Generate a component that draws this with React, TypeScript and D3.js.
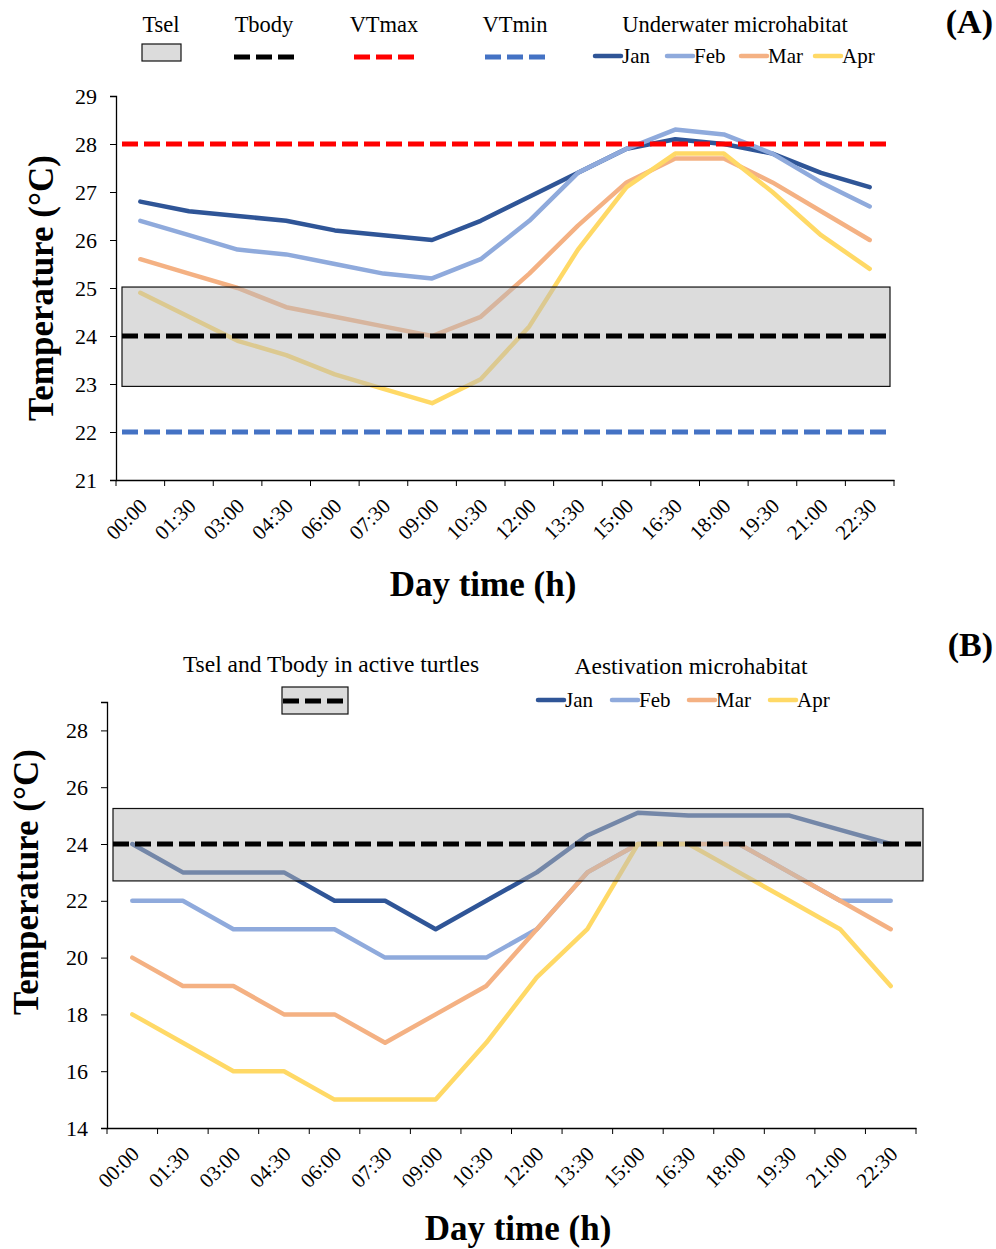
import React, { useRef, useEffect } from 'react';
import * as d3 from 'd3';

// time of day categories (same for both panels)
const times = ['00:00', '01:30', '03:00', '04:30', '06:00', '07:30', '09:00', '10:30',
  '12:00', '13:30', '15:00', '16:30', '18:00', '19:30', '21:00', '22:30'];

const months = ['Jan', 'Feb', 'Mar', 'Apr'];
const monthColors = ['#2f5597', '#8faadc', '#f4b183', '#ffd966'];

// (A) underwater microhabitat
const waterJan = [26.8, 26.6, 26.5, 26.4, 26.2, 26.1, 26.0, 26.4, 26.9, 27.4, 27.9, 28.1, 28.0, 27.8, 27.4, 27.1];
const waterFeb = [26.4, 26.1, 25.8, 25.7, 25.5, 25.3, 25.2, 25.6, 26.4, 27.4, 27.9, 28.3, 28.2, 27.8, 27.2, 26.7];
const waterMar = [25.6, 25.3, 25.0, 24.6, 24.4, 24.2, 24.0, 24.4, 25.3, 26.3, 27.2, 27.7, 27.7, 27.2, 26.6, 26.0];
const waterApr = [24.9, 24.4, 23.9, 23.6, 23.2, 22.9, 22.6, 23.1, 24.2, 25.8, 27.1, 27.8, 27.8, 27.0, 26.1, 25.4];

// (B) aestivation microhabitat
const aestJan = [24, 23, 23, 23, 22, 22, 21, 22, 23, 24.3, 25.1, 25, 25, 25, 24.5, 24];
const aestFeb = [22, 22, 21, 21, 21, 20, 20, 20, 21, 23, 24, 24, 24, 23, 22, 22];
const aestMar = [20, 19, 19, 18, 18, 17, 18, 19, 21, 23, 24, 24, 24, 23, 22, 21];
const aestApr = [18, 17, 16, 16, 15, 15, 15, 17, 19.3, 21, 24, 24, 23, 22, 21, 19];

// reference temperatures
const tselA = [22.95, 25.02];
const tbodyA = 24;
const vtMax = 28;
const vtMin = 22;
const tselB = [22.7, 25.25];
const tbodyB = 24;

const FONT = '"Liberation Serif", "Times New Roman", serif';
const BOX_FILL = '#b9b9b9';

function App() {
  const svgRef = useRef(null);

  useEffect(() => {
    const svg = d3.select(svgRef.current);
    svg.selectAll('*').remove();

    const drawPanel = (cfg) => {
      const g = svg.append('g');
      const x = d3.scaleBand().domain(times).range([cfg.left, cfg.right]);
      const y = d3.scaleLinear().domain(cfg.domain).range([cfg.bottom, cfg.top]);
      const cx = (t) => x(t) + x.bandwidth() / 2;

      // series lines
      const line = d3.line().x((d, i) => cx(times[i])).y(d => y(d));
      cfg.series.forEach((s, k) => {
        g.append('path')
          .datum(s)
          .attr('d', line)
          .attr('fill', 'none')
          .attr('stroke', monthColors[k])
          .attr('stroke-width', 4.5)
          .attr('stroke-linejoin', 'round')
          .attr('stroke-linecap', 'round');
      });

      // Tsel box
      g.append('rect')
        .attr('x', cfg.boxX[0])
        .attr('width', cfg.boxX[1] - cfg.boxX[0])
        .attr('y', y(cfg.tsel[1]))
        .attr('height', y(cfg.tsel[0]) - y(cfg.tsel[1]))
        .attr('fill', BOX_FILL)
        .attr('fill-opacity', 0.5)
        .attr('stroke', '#111')
        .attr('stroke-width', 1.2);

      // dashed reference lines
      cfg.refs.forEach(r => {
        g.append('line')
          .attr('x1', cfg.boxX[0]).attr('x2', cfg.boxX[1])
          .attr('y1', y(r.v)).attr('y2', y(r.v))
          .attr('stroke', r.color)
          .attr('stroke-width', 5)
          .attr('stroke-dasharray', '16,6');
      });

      // axes
      const yAxis = g.append('g')
        .attr('transform', `translate(${cfg.left},0)`)
        .call(d3.axisLeft(y).tickValues(cfg.ticks).tickSize(6).tickPadding(13).tickFormat(d3.format('d')));
      yAxis.selectAll('text').attr('font-size', 22).attr('font-family', FONT).attr('fill', '#000');

      const xAxis = g.append('g')
        .attr('transform', `translate(0,${cfg.bottom})`)
        .call(d3.axisBottom(x).tickValues([]).tickSizeOuter(0));
      // tick marks at band boundaries (Excel style)
      d3.range(times.length + 1).forEach(i => {
        const xx = cfg.left + i * x.step();
        xAxis.append('line').attr('x1', xx).attr('x2', xx).attr('y1', 0).attr('y2', 6).attr('stroke', '#000');
      });
      times.forEach(t => {
        xAxis.append('text')
          .attr('transform', `translate(${cx(t) + 3},${22}) rotate(-45)`)
          .attr('text-anchor', 'end')
          .attr('dy', '0.35em')
          .attr('font-size', 21)
          .attr('font-family', FONT)
          .attr('fill', '#000')
          .text(t);
      });
      g.selectAll('.domain').attr('stroke', '#000').attr('stroke-width', 1.3);
      g.selectAll('.tick line').attr('stroke', '#000');

      // axis titles
      g.append('text')
        .attr('transform', `translate(${cfg.yTitleX},${(cfg.top + cfg.bottom) / 2 + cfg.yTitleShift}) rotate(-90)`)
        .attr('text-anchor', 'middle')
        .attr('font-size', 35)
        .attr('font-weight', 'bold')
        .attr('font-family', FONT)
        .text('Temperature (°C)');
      g.append('text')
        .attr('x', cfg.xTitle[0]).attr('y', cfg.xTitle[1])
        .attr('text-anchor', 'middle')
        .attr('font-size', 35)
        .attr('font-weight', 'bold')
        .attr('font-family', FONT)
        .text('Day time (h)');

      // panel letter
      g.append('text')
        .attr('x', 993).attr('y', cfg.letterY)
        .attr('text-anchor', 'end')
        .attr('font-size', 34)
        .attr('font-weight', 'bold')
        .attr('font-family', FONT)
        .text(cfg.letter);
    };

    const txt = (x, yy, s, size, anchor = 'middle') => svg.append('text')
      .attr('x', x).attr('y', yy)
      .attr('text-anchor', anchor)
      .attr('font-size', size)
      .attr('font-family', FONT)
      .text(s);

    const monthLegend = (x0s, yy) => {
      months.forEach((m, k) => {
        svg.append('line')
          .attr('x1', x0s[k]).attr('x2', x0s[k] + 26)
          .attr('y1', yy).attr('y2', yy)
          .attr('stroke', monthColors[k])
          .attr('stroke-width', 4.5)
          .attr('stroke-linecap', 'round');
        txt(x0s[k] + 27, yy + 7, m, 21, 'start');
      });
    };

    // ---- panel A ----
    drawPanel({
      left: 116, right: 894, top: 96, bottom: 480,
      domain: [21, 29], ticks: d3.range(21, 30),
      series: [waterJan, waterFeb, waterMar, waterApr],
      tsel: tselA, boxX: [122, 890],
      refs: [
        { v: vtMax, color: '#ff0000' },
        { v: tbodyA, color: '#000000' },
        { v: vtMin, color: '#4472c4' },
      ],
      yTitleX: 53, yTitleShift: 0,
      xTitle: [483, 596],
      letter: '(A)', letterY: 33,
    });

    // legend A
    txt(161, 32, 'Tsel', 22.5);
    svg.append('rect').attr('x', 142).attr('y', 44).attr('width', 39).attr('height', 17)
      .attr('fill', BOX_FILL).attr('fill-opacity', 0.5).attr('stroke', '#111').attr('stroke-width', 1.2);
    [['Tbody', 264, '#000000'], ['VTmax', 384, '#ff0000'], ['VTmin', 515, '#4472c4']].forEach(([s, c, col]) => {
      txt(c, 32, s, 22.5);
      svg.append('line')
        .attr('x1', c - 30).attr('x2', c + 30)
        .attr('y1', 57).attr('y2', 57)
        .attr('stroke', col).attr('stroke-width', 5).attr('stroke-dasharray', '16,6');
    });
    txt(735, 32, 'Underwater microhabitat', 22.5);
    monthLegend([595, 667, 741, 815], 56);

    // ---- panel B ----
    drawPanel({
      left: 107, right: 916, top: 702, bottom: 1128,
      domain: [14, 29], ticks: d3.range(14, 29, 2),
      series: [aestJan, aestFeb, aestMar, aestApr],
      tsel: tselB, boxX: [113, 923],
      refs: [{ v: tbodyB, color: '#000000' }],
      yTitleX: 38, yTitleShift: -33,
      xTitle: [518, 1240],
      letter: '(B)', letterY: 656,
    });

    // legend B
    txt(331, 672, 'Tsel and Tbody in active turtles', 23.5);
    svg.append('rect').attr('x', 282).attr('y', 687).attr('width', 66).attr('height', 27)
      .attr('fill', BOX_FILL).attr('fill-opacity', 0.5).attr('stroke', '#111').attr('stroke-width', 1.2);
    svg.append('line')
      .attr('x1', 283).attr('x2', 345).attr('y1', 701).attr('y2', 701)
      .attr('stroke', '#000').attr('stroke-width', 5).attr('stroke-dasharray', '16,6');
    txt(691, 674, 'Aestivation microhabitat', 23.5);
    monthLegend([538, 612, 689, 770], 700);
  }, []);

  return (
    <svg ref={svgRef} width={996} height={1249}
      style={{ position: 'absolute', left: 0, top: 0, background: '#fff' }} />
  );
}

export default App;
